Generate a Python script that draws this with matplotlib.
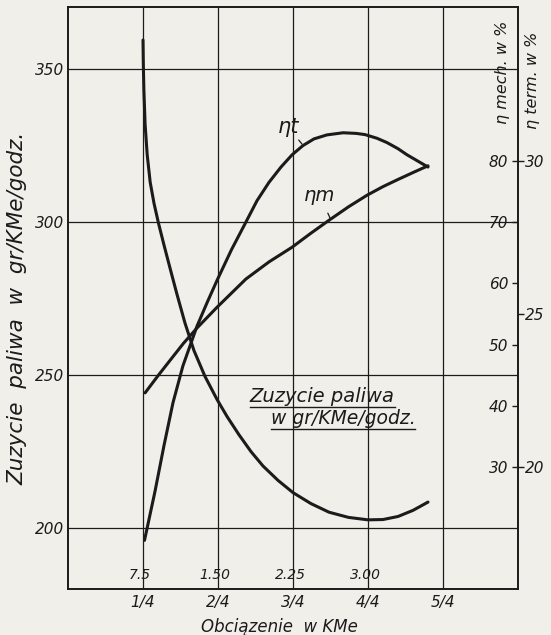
import matplotlib
matplotlib.use('Agg')
import matplotlib.pyplot as plt
from matplotlib.lines import Line2D
from matplotlib.transforms import blended_transform_factory, offset_copy

# readings, load as fraction of full load
fuel_load = [0.25, 0.251, 0.253, 0.257, 0.264, 0.274, 0.287, 0.302, 0.32, 0.34,
             0.363, 0.39, 0.42, 0.457, 0.497, 0.53, 0.57, 0.61, 0.65, 0.70,
             0.75, 0.81, 0.87, 0.935, 1.0, 1.05, 1.1, 1.15, 1.2]
fuel_gr = [359.5, 352, 343, 332, 322, 313, 306, 299.5, 292.5, 285,
           276.5, 267, 258, 249.5, 242, 236.5, 230.5, 225, 220.3, 215.6,
           211.6, 208, 205.2, 203.5, 202.7, 202.8, 203.8, 205.8, 208.5]

eta_t_load = [0.255, 0.29, 0.32, 0.35, 0.383, 0.43, 0.465, 0.497, 0.545, 0.593,
              0.63, 0.67, 0.71, 0.747, 0.783, 0.82, 0.863, 0.917, 0.96, 0.99,
              1.03, 1.063, 1.1, 1.13, 1.165, 1.2]
eta_t = [17.6, 19.2, 20.7, 22.1, 23.3, 24.6, 25.4, 26.1, 27.1, 28.0,
         28.7, 29.3, 29.8, 30.2, 30.5, 30.72, 30.85, 30.92, 30.9, 30.86,
         30.74, 30.6, 30.4, 30.2, 30.0, 29.8]

eta_m_load = [0.257, 0.30, 0.34, 0.385, 0.43, 0.497, 0.593, 0.67, 0.747, 0.81,
              0.87, 0.935, 0.997, 1.05, 1.097, 1.15, 1.2]
eta_m = [42.1, 44.9, 47.4, 50.2, 52.7, 56.1, 60.7, 63.5, 65.9, 68.2,
         70.3, 72.5, 74.4, 75.8, 76.9, 78.1, 79.2]

load_ticks = [0.25, 0.5, 0.75, 1.0, 1.25]
load_labels = ['1/4', '2/4', '3/4', '4/4', '5/4']
kme_ticks = [0.25, 0.5, 0.75, 1.0]
kme_labels = ['7.5', '1.50', '2.25', '3.00']
fuel_ticks = [200, 250, 300, 350]
mech_ticks = [30, 40, 50, 60, 70, 80]
term_ticks = [20, 25, 30]

paper = '#f1efe9'
ink = '#1b1b1b'

fig = plt.figure(figsize=(5.51, 6.35), dpi=100, facecolor=paper)
ax = fig.add_axes([68/551, 46/635, 450/551, 582/635])
ax.set_facecolor(paper)

f_lo, f_hi = 180.1, 370.3
ax.set_xlim(0, 1.5)
ax.set_ylim(f_lo, f_hi)

# grid
for x in load_ticks:
    ax.axvline(x, color=ink, lw=0.9, zorder=1)
for y in fuel_ticks:
    ax.axhline(y, color=ink, lw=0.9, zorder=1)
for s in ax.spines.values():
    s.set_linewidth(1.4)
    s.set_color(ink)

ax.set_yticks(fuel_ticks)
ax.set_yticklabels([str(v) for v in fuel_ticks], fontsize=11, style='italic', color=ink)
ax.tick_params(axis='y', length=0, pad=3)
ax.set_xticks(load_ticks)
ax.set_xticklabels(load_labels, fontsize=11, style='italic', color=ink)
ax.tick_params(axis='x', length=0, pad=4)

# KMe values written just above the bottom axis
tr = offset_copy(blended_transform_factory(ax.transData, ax.transAxes), fig=fig, x=-2, y=5, units='points')
for x, lab in zip(kme_ticks, kme_labels):
    ax.text(x, 0, lab, transform=tr, ha='center', va='bottom', fontsize=10,
            style='italic', color=ink)

ax.plot(fuel_load, fuel_gr, color=ink, lw=2.2, zorder=3, solid_capstyle='round')

# efficiency axes sharing the right frame line
ax_m = ax.twinx()
ax_m.set_ylim(f_lo/2 - 80, f_hi/2 - 80)
ax_m.set_yticks(mech_ticks)
ax_m.set_yticklabels([str(v) for v in mech_ticks], fontsize=11, style='italic', color=ink, ha='right')
ax_m.tick_params(axis='y', direction='in', length=4, width=1, pad=-7, colors=ink)
ax_m.plot(eta_m_load, eta_m, color=ink, lw=2.2, zorder=3, solid_capstyle='round')

ax_t = ax.twinx()
ax_t.set_ylim(f_lo/10 - 2, f_hi/10 - 2)
ax_t.set_yticks(term_ticks)
ax_t.set_yticklabels([str(v) for v in term_ticks], fontsize=11, style='italic', color=ink)
ax_t.tick_params(axis='y', direction='out', length=4, width=1, pad=1, colors=ink)
ax_t.plot(eta_t_load, eta_t, color=ink, lw=2.2, zorder=3, solid_capstyle='round')
for a in (ax_m, ax_t):
    for s in a.spines.values():
        s.set_visible(False)
    a.set_zorder(ax.get_zorder() + 1)
    a.patch.set_visible(False)

# curve labels
ax_t.annotate('ηt', xy=(0.78, 30.55), xytext=(0.735, 31.1), fontsize=15, style='italic',
              color=ink, ha='center', va='center',
              arrowprops=dict(arrowstyle='-', color=ink, lw=0.9, shrinkA=4, shrinkB=0))
ax_m.annotate('ηm', xy=(0.875, 70.5), xytext=(0.84, 74.3), fontsize=14, style='italic',
              color=ink, ha='center', va='center',
              arrowprops=dict(arrowstyle='-', color=ink, lw=0.9, shrinkA=4, shrinkB=0))

t1 = ax.text(0.847, 243.1, 'Zuzycie paliwa', fontsize=14, style='italic', color=ink,
             ha='center', va='center')
t2 = ax.text(0.917, 235.9, 'w gr/KMe/godz.', fontsize=13.5, style='italic', color=ink,
             ha='center', va='center')

ax.set_xlabel('Obciązenie  w KMe', fontsize=12, style='italic', color=ink)
ax.xaxis.set_label_coords(0.469, -0.05)

fig.text(17/551, 1 - 308/635, 'Zuzycie  paliwa  w  gr/KMe/godz.', rotation=90,
         ha='center', va='center', fontsize=15.5, style='italic', color=ink)
fig.text(503/551, 1 - 72/635, 'η mech. w %', rotation=90, ha='center', va='center',
         fontsize=11.5, style='italic', color=ink)
fig.text(533/551, 1 - 80/635, 'η term. w %', rotation=90, ha='center', va='center',
         fontsize=11.5, style='italic', color=ink)

# underline the legend text
fig.canvas.draw()
r = fig.canvas.get_renderer()
W, H = fig.bbox.width, fig.bbox.height
for t in (t1, t2):
    bb = t.get_window_extent(r)
    yy = (bb.y0 - 1) / H
    fig.add_artist(Line2D([bb.x0 / W, bb.x1 / W], [yy, yy], color=ink, lw=1.0))

fig.savefig('out.png', dpi=100, facecolor=paper)
